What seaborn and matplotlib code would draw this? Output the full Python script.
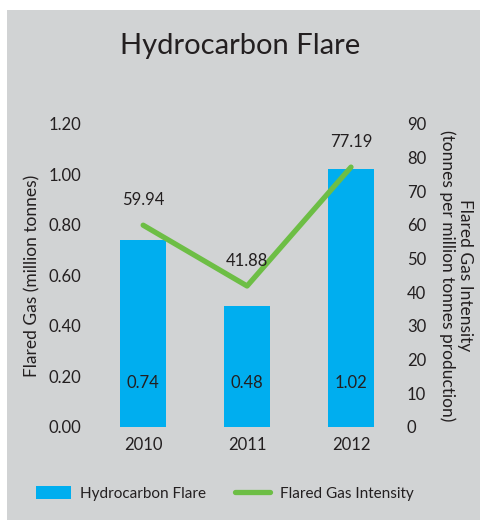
import numpy as np
import pandas as pd
import matplotlib.pyplot as plt
import seaborn as sns
from matplotlib.patches import Rectangle
from matplotlib.lines import Line2D
from matplotlib.patches import Patch

# data
years = ['2010', '2011', '2012']
flared_gas = [0.74, 0.48, 1.02]          # million tonnes
intensity = [59.94, 41.88, 77.19]        # tonnes per million tonnes production

df = pd.DataFrame({'year': years, 'gas': flared_gas, 'intensity': intensity})

BLUE = '#00AEEF'
GREEN = '#6DBE45'
GRAY = '#D1D3D4'
INK = '#231F20'

sns.set_theme(style='white')
plt.rcParams['font.family'] = ['Lato', 'DejaVu Sans']

fig = plt.figure(figsize=(4.8, 5.22), dpi=100)
fig.patch.set_facecolor('white')
fig.patches.append(Rectangle((7 / 480, 2 / 522), 1, 510 / 522, transform=fig.transFigure,
                             facecolor=GRAY, edgecolor='none', zorder=-5))

ax = fig.add_axes([0.19, 0.182, 0.643, 0.5805])
ax.set_facecolor('none')
sns.barplot(data=df, x='year', y='gas', color=BLUE, width=0.44, saturation=1,
            edgecolor='none', linewidth=0, ax=ax)
ax.set_xlim(-0.5, 2.47)
ax.set_ylim(0, 1.2)
ax.set_yticks(np.arange(0, 1.21, 0.2))
ax.set_yticklabels([f'{v:.2f}' for v in np.arange(0, 1.21, 0.2)])
ax.set_xlabel('')
ax.set_ylabel('Flared Gas (million tonnes)', fontsize=12.5, color=INK, labelpad=6)
ax.tick_params(axis='both', length=0, labelsize=12, colors=INK, pad=7)
for s in ax.spines.values():
    s.set_visible(False)

for i, v in enumerate(flared_gas):
    ax.text(i, 0.175, f'{v:.2f}', ha='center', va='center', fontsize=12, color=INK)

ax2 = ax.twinx()
sns.lineplot(x=np.arange(len(years)), y=intensity, color=GREEN, linewidth=3.8, ax=ax2)
ax2.set_ylim(0, 90)
ax2.set_yticks(range(0, 91, 10))
ax2.set_ylabel('Flared Gas Intensity\n(tonnes per million tonnes production)', fontsize=12.5,
               color=INK, rotation=270, labelpad=34, linespacing=1.1)
ax2.tick_params(axis='y', length=0, labelsize=12, colors=INK, pad=5)
for s in ax2.spines.values():
    s.set_visible(False)
for i, v in enumerate(intensity):
    ax2.text(i, v + 7.5, f'{v:.2f}', ha='center', va='center', fontsize=12, color=INK)

fig.text(0.5, 0.912, 'Hydrocarbon Flare', ha='center', va='center', fontsize=21, color=INK)

handles = [Patch(facecolor=BLUE, edgecolor='none'),
           Line2D([0], [0], color=GREEN, linewidth=3.8, solid_capstyle='round')]
fig.legend(handles, ['Hydrocarbon Flare', 'Flared Gas Intensity'], loc='center',
           bbox_to_anchor=(0.468, 0.055), ncol=2, frameon=False, fontsize=11,
           handlelength=2.3, handleheight=0.9, handletextpad=0.6, columnspacing=1.9,
           labelcolor=INK)

fig.savefig('out.png', dpi=100)
